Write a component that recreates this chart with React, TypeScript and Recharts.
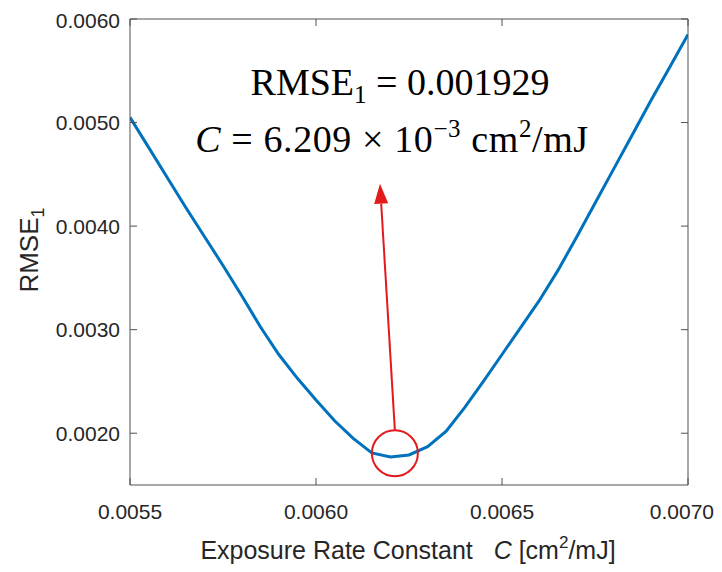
import { LineChart, Line, XAxis, YAxis, ReferenceDot, ReferenceLine } from 'recharts';

// exposure rate constant C [cm^2/mJ] and RMSE_1
const exposureC = [
  0.0055, 0.00555, 0.0056, 0.00565, 0.0057, 0.00575, 0.0058, 0.00585, 0.0059, 0.00595,
  0.006, 0.00605, 0.0061, 0.00615, 0.0062, 0.00625, 0.0063, 0.00635, 0.0064, 0.00645,
  0.0065, 0.00655, 0.0066, 0.00665, 0.0067, 0.00675, 0.0068, 0.00685, 0.0069, 0.00695, 0.007,
];
const rmse = [
  0.00505, 0.00476, 0.00447, 0.00418, 0.0039, 0.00362, 0.00333, 0.00303, 0.00276, 0.00253,
  0.00232, 0.00212, 0.00195, 0.00181, 0.00177, 0.00179, 0.00187, 0.00202, 0.00225, 0.0025,
  0.00276, 0.00302, 0.00328, 0.00357, 0.00389, 0.00422, 0.00455, 0.00488, 0.00521, 0.00553, 0.00585,
];

const xTicks = [0.0055, 0.006, 0.0065, 0.007];
const yTicks = [0.002, 0.003, 0.004, 0.005, 0.006];

// marked optimum and the arrow pointing to the annotation
const bestPoint = { c: 0.006212, rmse: 0.001807 };
const arrowStart = { c: 0.006212, rmse: 0.00203 };
const arrowTip = { c: 0.006172, rmse: 0.00441 };

const data = exposureC.map((c, i) => ({ c, rmse: rmse[i] }));

const RED = '#e3191c';
const AXIS = '#505050';
const FONT = 'Liberation Sans, Arial, sans-serif';
const tickFont = { fill: '#262626', fontSize: 21, fontFamily: FONT };

const Arrow = (props: any) => {
  const { x1, y1, x2, y2 } = props;
  const dx = x2 - x1;
  const dy = y2 - y1;
  const len = Math.hypot(dx, dy) || 1;
  const ux = dx / len;
  const uy = dy / len;
  const head = 20;
  const half = 7;
  const bx = x2 - ux * head;
  const by = y2 - uy * head;
  const pts = `${x2},${y2} ${bx - uy * half},${by + ux * half} ${bx + uy * half},${by - ux * half}`;
  return (
    <g>
      <line x1={x1} y1={y1} x2={bx} y2={by} stroke={RED} strokeWidth={2} />
      <polygon points={pts} fill={RED} />
    </g>
  );
};

// bottom tick label; the last one is kept inside the frame like the original
const XTick = (props: any) => {
  const { x, y, payload } = props;
  const last = payload.value >= 0.007 - 1e-9;
  return (
    <text
      x={last ? x + 26 : x}
      y={y}
      dy={17}
      textAnchor={last ? 'end' : 'middle'}
      fill="#262626"
      fontSize={21}
      fontFamily={FONT}
    >
      {payload.value.toFixed(4)}
    </text>
  );
};

const noLabel = () => <g />;

export default function App() {
  return (
    <div style={{ position: 'relative', width: 706, height: 564, background: '#fff' }}>
      <style>{'.recharts-surface{overflow:visible}'}</style>
      <LineChart width={706} height={564} data={data} margin={{ top: 10, right: 25, left: 0, bottom: 0 }}>
        <XAxis
          xAxisId="bottom"
          type="number"
          dataKey="c"
          domain={[0.0055, 0.007]}
          ticks={xTicks}
          allowDataOverflow
          tick={XTick}
          tickSize={-7}
          tickMargin={24}
          height={87}
          stroke={AXIS}
        />
        <XAxis
          xAxisId="top"
          orientation="top"
          type="number"
          dataKey="c"
          domain={[0.0055, 0.007]}
          ticks={xTicks}
          allowDataOverflow
          tick={noLabel}
          tickSize={-7}
          height={1}
          stroke={AXIS}
        />
        <YAxis
          yAxisId="left"
          type="number"
          domain={[0.0015, 0.006]}
          ticks={yTicks}
          allowDataOverflow
          tickFormatter={(v: number) => v.toFixed(4)}
          tick={tickFont}
          tickSize={-7}
          tickMargin={17}
          width={122}
          stroke={AXIS}
        />
        <YAxis
          yAxisId="right"
          orientation="right"
          type="number"
          domain={[0.0015, 0.006]}
          ticks={yTicks}
          allowDataOverflow
          tick={noLabel}
          tickSize={-7}
          width={1}
          stroke={AXIS}
        />
        <Line
          xAxisId="bottom"
          yAxisId="left"
          type="linear"
          dataKey="rmse"
          stroke="#0072BD"
          strokeWidth={3}
          dot={false}
          isAnimationActive={false}
        />
        <ReferenceDot
          xAxisId="bottom"
          yAxisId="left"
          x={bestPoint.c}
          y={bestPoint.rmse}
          r={23}
          fill="none"
          stroke={RED}
          strokeWidth={2}
        />
        <ReferenceLine
          xAxisId="bottom"
          yAxisId="left"
          segment={[
            { x: arrowStart.c, y: arrowStart.rmse },
            { x: arrowTip.c, y: arrowTip.rmse },
          ]}
          shape={Arrow}
        />
      </LineChart>
      <svg
        width={706}
        height={564}
        style={{ position: 'absolute', left: 0, top: 0, pointerEvents: 'none', overflow: 'visible' }}
      >
        <g fontFamily="Liberation Serif, Times New Roman, serif" fontSize={38} fill="#000">
          <text x={392} y={87} textAnchor="middle">
            RMSE<tspan fontSize={25} dy={8}>1</tspan>
            <tspan dy={-8}> = 0.001929</tspan>
          </text>
          <text x={384} y={144} textAnchor="middle" letterSpacing={0.6}>
            <tspan fontStyle="italic">C</tspan>
            <tspan> = 6.209 × 10</tspan>
            <tspan fontSize={25} dy={-15}>−3</tspan>
            <tspan dy={15}> cm</tspan>
            <tspan fontSize={25} dy={-15}>2</tspan>
            <tspan dy={15}>/mJ</tspan>
          </text>
        </g>
        <g fontFamily={FONT} fill="#262626">
          <text x={400} y={551} textAnchor="middle" fontSize={25}>
            Exposure Rate Constant{'\u00a0\u00a0\u00a0'}
            <tspan fontStyle="italic">C</tspan>
            <tspan> [cm</tspan>
            <tspan fontSize={17} dy={-11}>2</tspan>
            <tspan dy={11}>/mJ]</tspan>
          </text>
          <text transform="translate(30,242) rotate(-90)" textAnchor="middle" fontSize={26}>
            RMSE<tspan fontSize={18} dy={6}>1</tspan>
          </text>
        </g>
      </svg>
    </div>
  );
}
